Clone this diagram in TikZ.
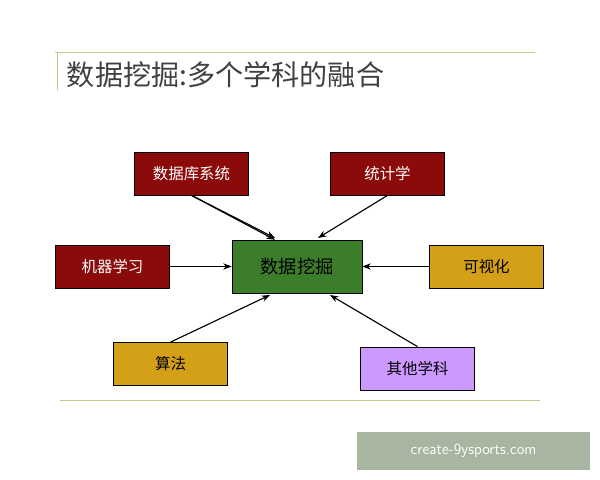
\documentclass[tikz,border=0pt]{standalone}
\usepackage{fontspec}
\newfontfamily\cjk{Noto Sans CJK SC}
\usetikzlibrary{arrows.meta}
\definecolor{boxred}{HTML}{8B0A0A}
\definecolor{boxgreen}{HTML}{3C7D2C}
\definecolor{boxgold}{HTML}{D4A017}
\definecolor{boxlilac}{HTML}{CC99FF}
\definecolor{rulecol}{HTML}{C8C890}
\definecolor{markcol}{HTML}{A8B5A0}
\tikzset{
  field/.style={draw=black, minimum width=2.85cm, minimum height=1.08cm, font=\cjk\fontsize{11}{13}\selectfont},
  redfield/.style={field, fill=boxred, text=white},
  goldfield/.style={field, fill=boxgold, text=black},
  feed/.style={-{Stealth[length=6pt]}, thick}
}
\begin{document}
\begin{tikzpicture}[x=0.025cm,y=-0.025cm]
                \useasboundingbox (0,0) rectangle (600,480);
                % title
                \draw[rulecol] (55,52) -- (535,52);
                \draw[rulecol] (57,52) -- (57,90);
                \node[anchor=west, text=black!75, font=\cjk\fontsize{20}{24}\selectfont] (title) at (62,75) {数据挖掘:多个学科的融合};
                \draw[rulecol] (60,400) -- (540,400);
                % boxes
                \node[redfield] (db) at (191.5,173.5) {数据库系统};
                \node[redfield] (stat) at (387.5,173.5) {统计学};
                \node[redfield] (ml) at (112.5,266.5) {机器学习};
                \node[field, fill=boxgreen, minimum width=3.25cm, minimum height=1.32cm, font=\cjk\fontsize{13}{15}\selectfont] (dm) at (297,266.5) {数据挖掘};
                \node[goldfield] (vis) at (486.5,266.5) {可视化};
                \node[goldfield] (algo) at (170.5,364) {算法};
                \node[field, fill=boxlilac] (other) at (417.5,368.5) {其他学科};
                % arrows
                \draw[feed] (db.south) -- (dm.north west -| 275,0);
                \draw[feed] (db.south) -- (275,238);
                \draw[feed] (stat.south) -- (318,238);
                \draw[feed] (ml) -- (dm);
                \draw[feed] (vis) -- (dm);
                \draw[feed] (algo.north) -- (270,295);
                \draw[feed] (other.north) -- (330,295);
                % watermark
                \node[fill=markcol, minimum width=5.83cm, minimum height=0.95cm, text=white, font=\fontsize{11}{13}\selectfont\sffamily] (mark) at (473.5,451) {create-9ysports.com};
            \end{tikzpicture}
\end{document}
